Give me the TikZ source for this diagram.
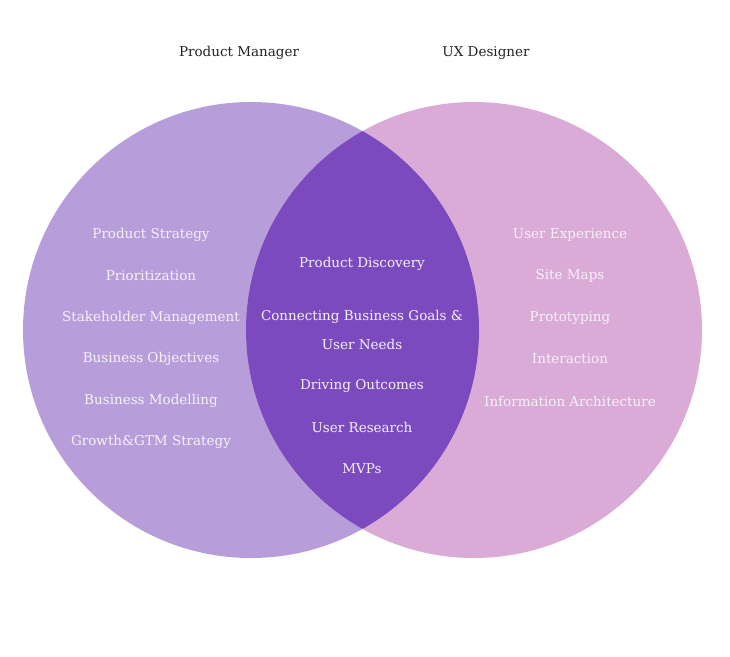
\documentclass[tikz,border=0pt]{standalone}
\usepackage{fontspec}
\setmainfont{DejaVu Serif}
\definecolor{pmfill}{HTML}{B79EDB}
\definecolor{uxfill}{HTML}{DBABD7}
\definecolor{overlap}{HTML}{7A4ABE}
\definecolor{softwhite}{HTML}{F6F1FA}
\definecolor{titleink}{HTML}{222222}
\begin{document}
\begin{tikzpicture}[x=1pt, y=-1pt, every node/.style={font=\fontsize{13.5}{16}\selectfont, text=softwhite, inner sep=0pt}]
\useasboundingbox (0,0) rectangle (730,656);
\fill[pmfill] (251,330) circle (228);
\fill[uxfill] (474,330) circle (228);
\begin{scope}
\clip (251,330) circle (228);
\fill[overlap] (474,330) circle (228);
\end{scope}
\node[text=titleink] (pm) at (239,53) {Product Manager};
\node[text=titleink] (ux) at (486,53) {UX Designer};
% left circle
\node (strategy) at (151,235) {Product Strategy};
\node (prio) at (151,276) {Prioritization};
\node (stake) at (151,318) {Stakeholder Management};
\node (objectives) at (151,359) {Business Objectives};
\node (modelling) at (151,401) {Business Modelling};
\node (growth) at (151,442) {Growth\&GTM Strategy};
% overlap
\node (discovery) at (362,264) {Product Discovery};
\node (goals) at (362,317) {Connecting Business Goals \&};
\node (needs) at (362,344) {User Needs};
\node (outcomes) at (362,386) {Driving Outcomes};
\node (research) at (362,427) {User Research};
\node (mvps) at (362,469) {MVPs};
% right circle
\node (experience) at (570,235) {User Experience};
\node (sitemaps) at (570,276) {Site Maps};
\node (proto) at (570,318) {Prototyping};
\node (interaction) at (570,359) {Interaction};
\node (infoarch) at (570,401) {Information Architecture};
\end{tikzpicture}
\end{document}
